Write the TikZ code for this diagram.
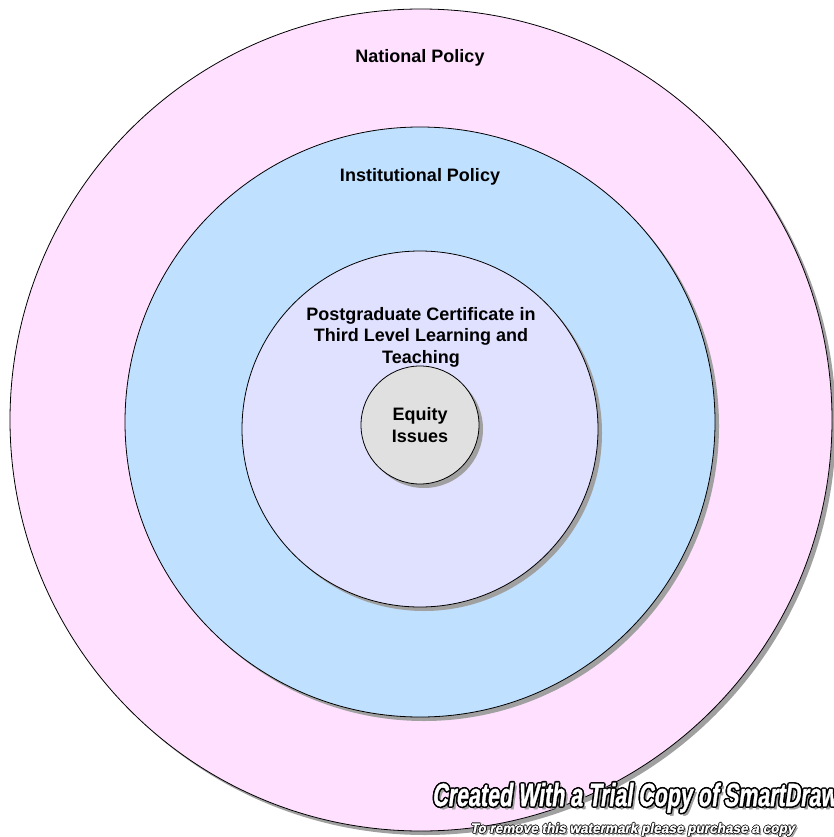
\documentclass[tikz,border=0pt]{standalone}
\usepackage{fontspec}
\setmainfont{Liberation Sans}
\newfontfamily\wmfont[FakeSlant=0.2,FakeBold=1.5]{Liberation Sans Bold}
\definecolor{natpink}{HTML}{FFE0FF}
\definecolor{instblue}{HTML}{BFE0FF}
\definecolor{pglav}{HTML}{E0E0FF}
\definecolor{eqgray}{HTML}{E0E0E0}
\definecolor{shadowgray}{HTML}{A0A0A0}
\begin{document}
\begin{tikzpicture}[x=1pt,y=-1pt,
  ring/.style={circle,draw=black,line width=0.8pt,inner sep=0pt},
  ringshadow/.style={circle,fill=shadowgray,draw=none,inner sep=0pt},
  lbl/.style={font=\fontsize{18}{21.5}\selectfont\bfseries,align=center,text=black},
  wmtext/.style={anchor=base west,inner sep=0pt}]
\useasboundingbox (0,0) rectangle (833,837);
% outer
\node[ringshadow,minimum size=822pt] (natS) at (425,424) {};
\node[ring,fill=natpink,minimum size=822pt] (nat) at (421,420) {};
% institutional
\node[ringshadow,minimum size=590pt] (instS) at (424,426) {};
\node[ring,fill=instblue,minimum size=590pt] (inst) at (420,422) {};
% postgraduate
\node[ringshadow,minimum size=356pt] (pgS) at (424,433) {};
\node[ring,fill=pglav,minimum size=356pt] (pg) at (420,429) {};
% equity
\node[ringshadow,minimum size=118pt] (eqS) at (424,429) {};
\node[ring,fill=eqgray,minimum size=118pt] (eq) at (420,425) {};
% labels
\node[lbl] (natL) at (420,58) {National Policy};
\node[lbl] (instL) at (420,177) {Institutional Policy};
\node[lbl] (pgL) at (421,337) {Postgraduate Certificate in\\Third Level Learning and\\Teaching};
\node[lbl] (eqL) at (420,425) {Equity\\Issues};
% watermark
\def\wmbig{\scalebox{0.67}[1]{\wmfont\fontsize{32}{32}\selectfont Created With a Trial Copy of SmartDraw}}
\def\wmsmall{\scalebox{0.97}[1]{\wmfont\fontsize{14}{14}\selectfont To remove this watermark please purchase a copy}}
\node[wmtext,text=shadowgray] (wmS) at (435,809) {\wmbig};
\foreach \dx/\dy [count=\i] in {-1.6/0,1.6/0,0/-1.6,0/1.6,-1.1/-1.1,1.1/1.1,-1.1/1.1,1.1/-1.1}
  \node[wmtext,text=black] (wmO\i) at (432+\dx,806+\dy) {\wmbig};
\node[wmtext,text=white] (wm) at (432,806) {\wmbig};
\node[wmtext,text=shadowgray] (wsS) at (472,835) {\wmsmall};
\foreach \dx/\dy [count=\i] in {-0.8/0,0.8/0,0/-0.8,0/0.8}
  \node[wmtext,text=black] (wsO\i) at (470+\dx,833+\dy) {\wmsmall};
\node[wmtext,text=white] (ws) at (470,833) {\wmsmall};
\end{tikzpicture}
\end{document}
